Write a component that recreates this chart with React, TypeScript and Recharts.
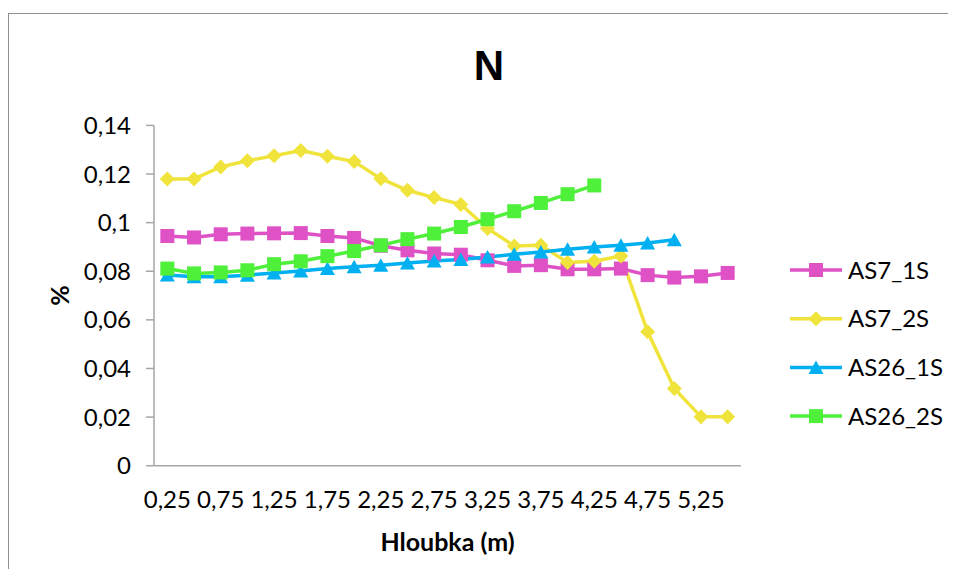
import { LineChart, Line, XAxis, YAxis, Legend } from 'recharts'

const depths = [0.25, 0.5, 0.75, 1, 1.25, 1.5, 1.75, 2, 2.25, 2.5, 2.75, 3, 3.25, 3.5, 3.75, 4, 4.25, 4.5, 4.75, 5, 5.25, 5.5]
const as7_1s = [0.0945, 0.0939, 0.0952, 0.0955, 0.0956, 0.0957, 0.0945, 0.0937, 0.0905, 0.0886, 0.0873, 0.0868, 0.0845, 0.0822, 0.0825, 0.0808, 0.0808, 0.0811, 0.0784, 0.0774, 0.0779, 0.0793]
const as7_2s = [0.118, 0.118, 0.1229, 0.1255, 0.1275, 0.1297, 0.1273, 0.1251, 0.1181, 0.1133, 0.1103, 0.1075, 0.0976, 0.0904, 0.0907, 0.0836, 0.0841, 0.0863, 0.0551, 0.0318, 0.0201, 0.0201]
const as26_1s = [0.0785, 0.0777, 0.0777, 0.0784, 0.0793, 0.0801, 0.0811, 0.0818, 0.0825, 0.0834, 0.0842, 0.0848, 0.0859, 0.087, 0.0879, 0.089, 0.09, 0.0907, 0.0916, 0.093]
const as26_2s = [0.0811, 0.0791, 0.0795, 0.0804, 0.0829, 0.0841, 0.0862, 0.0883, 0.0907, 0.0932, 0.0955, 0.0982, 0.1014, 0.1047, 0.1081, 0.1117, 0.1153]
const yTicks = [0, 0.02, 0.04, 0.06, 0.08, 0.1, 0.12, 0.14]

const SERIES = [
  { key: 'AS7_1S', color: '#DE52C6', shape: 'square' },
  { key: 'AS7_2S', color: '#F0E43C', shape: 'diamond' },
  { key: 'AS26_1S', color: '#00B0F0', shape: 'triangle' },
  { key: 'AS26_2S', color: '#4EF03A', shape: 'square' },
]

const fmt = (v: number) => String(v).replace('.', ',')

const data = depths.map((d, i) => ({
  depth: fmt(d),
  AS7_1S: as7_1s[i],
  AS7_2S: as7_2s[i],
  AS26_1S: as26_1s[i] ?? null,
  AS26_2S: as26_2s[i] ?? null,
}))

const FONT = 'Lato, "Open Sans", sans-serif'
const axisColor = '#A6A6A6'
const tickStyle = { fontSize: 24, fill: '#000', fontFamily: FONT }

const Marker = ({ shape, x, y, color }: { shape: string; x: number; y: number; color: string }) => {
  if (shape === 'square') return <rect x={x - 7} y={y - 7} width={14} height={14} fill={color} />
  if (shape === 'diamond')
    return <polygon points={`${x},${y - 7.5} ${x + 7.5},${y} ${x},${y + 7.5} ${x - 7.5},${y}`} fill={color} />
  return <polygon points={`${x},${y - 7} ${x + 7.5},${y + 6.5} ${x - 7.5},${y + 6.5}`} fill={color} />
}

const dotFor = (shape: string, color: string) => (p: any) =>
  p.cy == null || p.value == null ? (
    <g key={`d-${p.index}`} />
  ) : (
    <Marker key={`d-${p.index}`} shape={shape} x={p.cx} y={p.cy} color={color} />
  )

// legend keeps the series order, not the alphabetical one
const renderLegend = (props: any) => {
  const items = SERIES.filter((s) => (props.payload || []).some((p: any) => p.dataKey === s.key))
  return (
    <svg width={185} height={200}>
      {items.map((s, i) => {
        const y = 16 + i * 48.7
        return (
          <g key={s.key}>
            <line x1={10} x2={62} y1={y} y2={y} stroke={s.color} strokeWidth={3.5} />
            <Marker shape={s.shape} x={36} y={y} color={s.color} />
            <text x={68} y={y} dy="0.36em" fontSize={24} fontFamily={FONT} fill="#000">
              {s.key}
            </text>
          </g>
        )
      })}
    </svg>
  )
}

export default function App() {
  return (
    <div
      style={{
        position: 'relative',
        top: 5,
        width: 939,
        height: 560,
        borderLeft: '1px solid #8E8E8E',
        borderTop: '1px solid #8E8E8E',
        background: '#fff',
      }}
    >
      <div
        style={{
          position: 'absolute',
          left: 430,
          top: 31,
          width: 100,
          textAlign: 'center',
          fontFamily: '"Liberation Sans", Arial, sans-serif',
          fontWeight: 700,
          fontSize: 42,
          lineHeight: '42px',
          color: '#000',
        }}
      >
        N
      </div>
      <LineChart width={939} height={560} data={data} margin={{ top: 111.4, right: 207, bottom: 48.3, left: 0 }}>
        <XAxis
          dataKey="depth"
          interval={1}
          tickLine={false}
          axisLine={{ stroke: axisColor, strokeWidth: 1.5 }}
          tick={tickStyle}
          tickMargin={19}
          height={60}
          padding={{ left: 13.34, right: 13.34 }}
          label={{
            value: 'Hloubka (m)',
            position: 'bottom',
            offset: 8,
            style: { fontSize: 25, fontWeight: 700, fill: '#000', fontFamily: FONT },
          }}
        />
        <YAxis
          width={145}
          domain={[0, 0.14]}
          ticks={yTicks}
          tickFormatter={fmt}
          tickSize={8}
          tickMargin={15}
          axisLine={{ stroke: axisColor, strokeWidth: 1.5 }}
          tickLine={{ stroke: axisColor, strokeWidth: 1.5 }}
          tick={tickStyle}
          label={{
            value: '%',
            angle: -90,
            position: 'insideLeft',
            offset: 51,
            style: { fontSize: 25, fontWeight: 700, fill: '#000', fontFamily: FONT, textAnchor: 'middle' },
          }}
        />
        <Legend
          layout="vertical"
          align="center"
          verticalAlign="middle"
          wrapperStyle={{ left: 771, top: 240, width: 185, height: 200 }}
          content={renderLegend}
        />
        {SERIES.map((s) => (
          <Line
            key={s.key}
            dataKey={s.key}
            name={s.key}
            type="linear"
            stroke={s.color}
            strokeWidth={3.5}
            dot={dotFor(s.shape, s.color)}
            activeDot={false}
            isAnimationActive={false}
          />
        ))}
      </LineChart>
    </div>
  )
}
